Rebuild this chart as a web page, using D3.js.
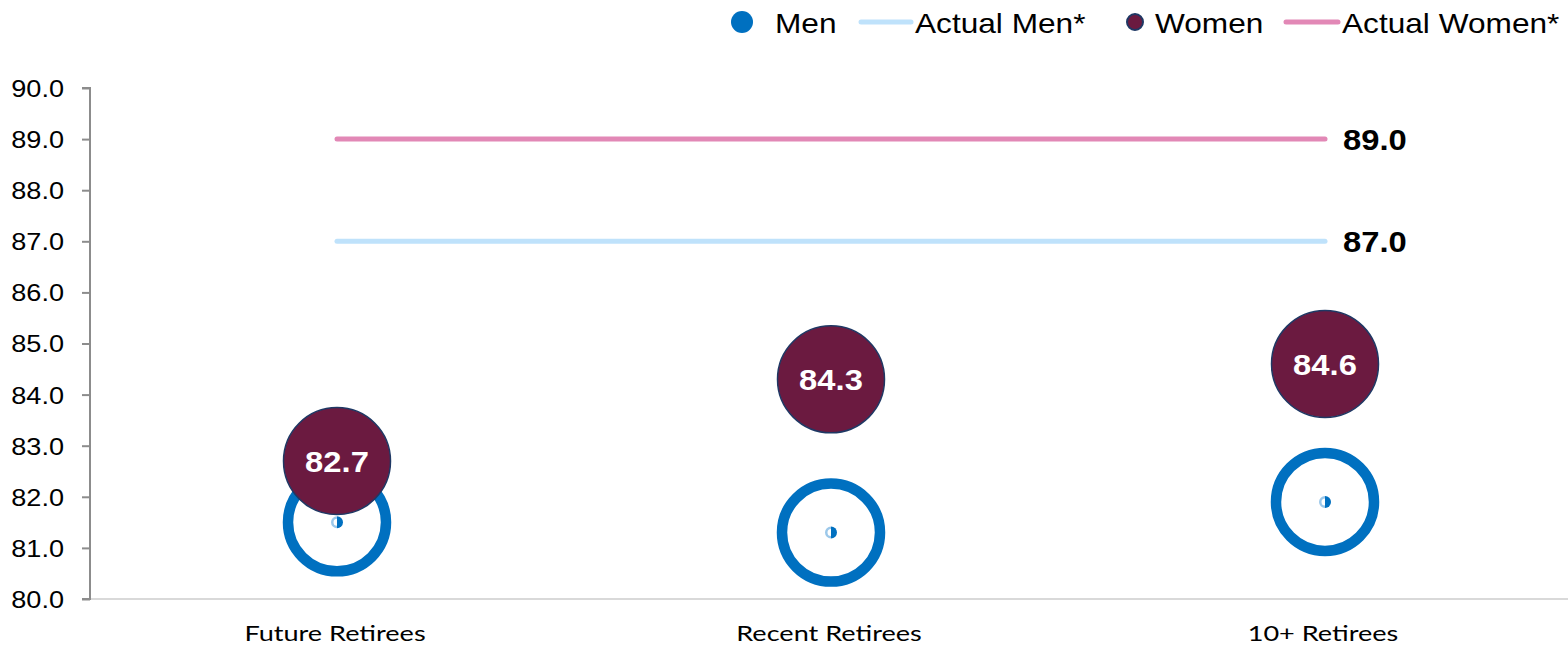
<!DOCTYPE html>
<html>
<head>
<meta charset="utf-8">
<script src="https://cdn.jsdelivr.net/npm/d3@7"></script>
<style>
  html, body { margin: 0; padding: 0; background: #ffffff; }
  svg { display: block; }
</style>
</head>
<body>
<svg id="chart" width="1568" height="647"></svg>
<script>
// Expected age at death by retiree group
const categories = ["Future Retirees", "Recent Retirees", "10+ Retirees"];
const menValues = [81.5, 81.3, 81.9];
const womenValues = [82.7, 84.3, 84.6];
const actualMen = 87.0;
const actualWomen = 89.0;
const yTicks = [80, 81, 82, 83, 84, 85, 86, 87, 88, 89, 90];

const colors = {
  men: "#0070c0",
  actualMen: "#bfe2fb",
  women: "#6b1a40",
  womenStroke: "#1f3864",
  actualWomen: "#e288b6",
  axis: "#8c8c8c",
  baseline: "#d9d9d9"
};

// text in this chart is set slightly wide
const TEXT_STRETCH = 1.13;
function placeText(sel, fx, fy, stretch = TEXT_STRETCH) {
  sel.attr("x", 0).attr("y", 0)
    .attr("transform", (d, i) => `translate(${fx(d, i)},${fy(d, i)}) scale(${stretch},1)`);
}

const svg = d3.select("#chart");
const plot = { left: 90, right: 1572, top: 88, bottom: 599 };

const x = d3.scalePoint().domain(categories).range([plot.left, plot.right]).padding(0.5);
const y = d3.scaleLinear().domain([80, 90]).range([plot.bottom, plot.top]);

// baseline across the bottom
svg.append("line")
  .attr("x1", plot.left).attr("x2", 1568)
  .attr("y1", y(80)).attr("y2", y(80))
  .attr("stroke", colors.baseline).attr("stroke-width", 2);

// y axis
const yAxis = svg.append("g")
  .attr("transform", `translate(${plot.left},0)`)
  .call(d3.axisLeft(y).tickValues(yTicks).tickFormat(d3.format(".1f")).tickSize(8).tickPadding(18));
yAxis.select(".domain").attr("stroke", colors.axis).attr("stroke-width", 2).attr("d", `M-8,${y(90)}H0V${y(80)}H-8`);
yAxis.selectAll(".tick line").attr("stroke", colors.axis).attr("stroke-width", 2);
yAxis.selectAll(".tick text")
  .attr("font-family", "Liberation Sans, Arial, sans-serif")
  .attr("font-size", 24)
  .attr("fill", "#000")
  .attr("dy", null)
  .attr("dominant-baseline", "central")
  .call(placeText, () => -26, () => 0);

// category labels
svg.append("g").selectAll("text")
  .data(categories)
  .join("text")
  .attr("text-anchor", "middle")
  .attr("font-family", "Lato, Carlito, sans-serif")
  .attr("font-size", 21)
  .attr("fill", "#000")
  .text(d => d)
  .call(placeText, d => x(d) - 2, () => 641, 1.29);

// actual age reference lines
const first = categories[0], last = categories[categories.length - 1];
const refLines = [
  { value: actualWomen, color: colors.actualWomen },
  { value: actualMen, color: colors.actualMen }
];
svg.append("g").selectAll("line")
  .data(refLines)
  .join("line")
  .attr("x1", x(first)).attr("x2", x(last))
  .attr("y1", d => y(d.value)).attr("y2", d => y(d.value))
  .attr("stroke", d => d.color)
  .attr("stroke-width", 5)
  .attr("stroke-linecap", "round");
svg.append("g").selectAll("text")
  .data(refLines)
  .join("text")
  .attr("dominant-baseline", "central")
  .attr("font-family", "Liberation Sans, Arial, sans-serif")
  .attr("font-size", 29)
  .attr("font-weight", "bold")
  .attr("fill", "#000")
  .text(d => d.value.toFixed(1))
  .call(placeText, () => x(last) + 18, d => y(d.value) + 1);

// men: ring markers
const menG = svg.append("g").selectAll("g")
  .data(categories.map((c, i) => ({ c, v: menValues[i] })))
  .join("g")
  .attr("transform", d => `translate(${x(d.c)},${y(d.v)})`);
menG.append("circle")
  .attr("r", 49)
  .attr("fill", "#ffffff")
  .attr("stroke", colors.men)
  .attr("stroke-width", 10.5);
menG.append("path")
  .attr("d", d3.arc()({ innerRadius: 0, outerRadius: 6, startAngle: 0, endAngle: Math.PI }))
  .attr("fill", colors.men);
menG.append("path")
  .attr("d", d3.arc()({ innerRadius: 3.5, outerRadius: 6, startAngle: Math.PI, endAngle: 2 * Math.PI }))
  .attr("fill", "#9cc8ea");

// women: filled markers with value labels
const womenG = svg.append("g").selectAll("g")
  .data(categories.map((c, i) => ({ c, v: womenValues[i] })))
  .join("g")
  .attr("transform", d => `translate(${x(d.c)},${y(d.v)})`);
womenG.append("circle")
  .attr("r", 53.5)
  .attr("fill", colors.women)
  .attr("stroke", colors.womenStroke)
  .attr("stroke-width", 1.5);
womenG.append("text")
  .attr("text-anchor", "middle")
  .attr("dominant-baseline", "central")
  .attr("font-family", "Liberation Sans, Arial, sans-serif")
  .attr("font-size", 29)
  .attr("font-weight", "bold")
  .attr("fill", "#ffffff")
  .text(d => d.v.toFixed(1))
  .call(placeText, () => 0, () => 1);

// legend
const legendY = 22;
const legend = svg.append("g").attr("font-family", "Liberation Sans, Arial, sans-serif").attr("font-size", 28);
const legendItems = [
  { type: "dot", cx: 742, r: 11, fill: colors.men, stroke: "none", label: "Men", tx: 775 },
  { type: "line", x1: 861, x2: 911, color: colors.actualMen, label: "Actual Men*", tx: 915 },
  { type: "dot", cx: 1135, r: 8, fill: colors.women, stroke: colors.womenStroke, label: "Women", tx: 1155 },
  { type: "line", x1: 1286, x2: 1338, color: colors.actualWomen, label: "Actual Women*", tx: 1342 }
];
legend.selectAll("circle")
  .data(legendItems.filter(d => d.type === "dot"))
  .join("circle")
  .attr("cx", d => d.cx).attr("cy", legendY).attr("r", d => d.r)
  .attr("fill", d => d.fill).attr("stroke", d => d.stroke).attr("stroke-width", 2);
legend.selectAll("line")
  .data(legendItems.filter(d => d.type === "line"))
  .join("line")
  .attr("x1", d => d.x1).attr("x2", d => d.x2).attr("y1", legendY).attr("y2", legendY)
  .attr("stroke", d => d.color).attr("stroke-width", 5).attr("stroke-linecap", "round");
legend.selectAll("text")
  .data(legendItems)
  .join("text")
  .attr("dominant-baseline", "central")
  .attr("fill", "#000")
  .text(d => d.label)
  .call(placeText, d => d.tx, () => legendY + 1);
</script>
</body>
</html>
